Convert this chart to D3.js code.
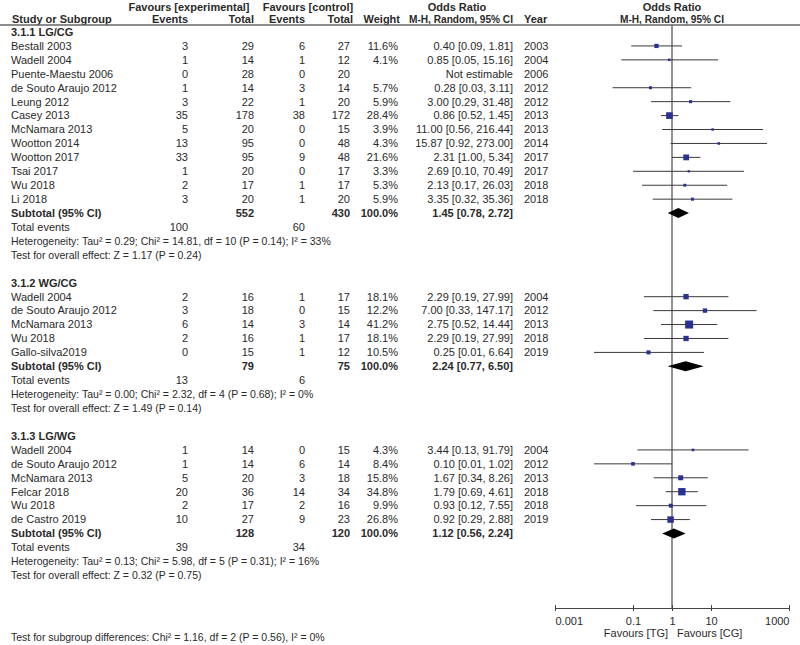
<!DOCTYPE html>
<html>
<head>
<meta charset="utf-8">
<script src="https://cdn.jsdelivr.net/npm/d3@7"></script>
<style>
  body { margin: 0; background: #fff; }
  svg { font-family: "Liberation Sans", Arial, sans-serif; font-size: 11px; fill: #2a2a2a; }
  .b { font-weight: bold; }
</style>
</head>
<body>
<svg id="chart" width="800" height="645"></svg>
<script>
// --- data ---
// [study, events exp, total exp, events ctrl, total ctrl, weight %, OR, lo, hi, year]
const lgcg = [
  ["Bestall 2003", 3, 29, 6, 27, 11.6, 0.40, 0.09, 1.81, 2003],
  ["Wadell 2004", 1, 14, 1, 12, 4.1, 0.85, 0.05, 15.16, 2004],
  ["Puente-Maestu 2006", 0, 28, 0, 20, null, null, null, null, 2006],
  ["de Souto Araujo 2012", 1, 14, 3, 14, 5.7, 0.28, 0.03, 3.11, 2012],
  ["Leung 2012", 3, 22, 1, 20, 5.9, 3.00, 0.29, 31.48, 2012],
  ["Casey 2013", 35, 178, 38, 172, 28.4, 0.86, 0.52, 1.45, 2013],
  ["McNamara 2013", 5, 20, 0, 15, 3.9, 11.00, 0.56, 216.44, 2013],
  ["Wootton 2014", 13, 95, 0, 48, 4.3, 15.87, 0.92, 273.00, 2014],
  ["Wootton 2017", 33, 95, 9, 48, 21.6, 2.31, 1.00, 5.34, 2017],
  ["Tsai 2017", 1, 20, 0, 17, 3.3, 2.69, 0.10, 70.49, 2017],
  ["Wu 2018", 2, 17, 1, 17, 5.3, 2.13, 0.17, 26.03, 2018],
  ["Li 2018", 3, 20, 1, 20, 5.9, 3.35, 0.32, 35.36, 2018]
];
const wgcg = [
  ["Wadell 2004", 2, 16, 1, 17, 18.1, 2.29, 0.19, 27.99, 2004],
  ["de Souto Araujo 2012", 3, 18, 0, 15, 12.2, 7.00, 0.33, 147.17, 2012],
  ["McNamara 2013", 6, 14, 3, 14, 41.2, 2.75, 0.52, 14.44, 2013],
  ["Wu 2018", 2, 16, 1, 17, 18.1, 2.29, 0.19, 27.99, 2018],
  ["Gallo-silva2019", 0, 15, 1, 12, 10.5, 0.25, 0.01, 6.64, 2019]
];
const lgwg = [
  ["Wadell 2004", 1, 14, 0, 15, 4.3, 3.44, 0.13, 91.79, 2004],
  ["de Souto Araujo 2012", 1, 14, 6, 14, 8.4, 0.10, 0.01, 1.02, 2012],
  ["McNamara 2013", 5, 20, 3, 18, 15.8, 1.67, 0.34, 8.26, 2013],
  ["Felcar 2018", 20, 36, 14, 34, 34.8, 1.79, 0.69, 4.61, 2018],
  ["Wu 2018", 2, 17, 2, 16, 9.9, 0.93, 0.12, 7.55, 2018],
  ["de Castro 2019", 10, 27, 9, 23, 26.8, 0.92, 0.29, 2.88, 2019]
];
// subtotals: [title, total exp, total ctrl, events exp, events ctrl, OR, lo, hi, heterogeneity, overall]
const subtotals = [
  ["3.1.1 LG/CG", 552, 430, 100, 60, 1.45, 0.78, 2.72,
   "Heterogeneity: Tau² = 0.29; Chi² = 14.81, df = 10 (P = 0.14); I² = 33%", "Test for overall effect: Z = 1.17 (P = 0.24)"],
  ["3.1.2 WG/CG", 79, 75, 13, 6, 2.24, 0.77, 6.50,
   "Heterogeneity: Tau² = 0.00; Chi² = 2.32, df = 4 (P = 0.68); I² = 0%", "Test for overall effect: Z = 1.49 (P = 0.14)"],
  ["3.1.3 LG/WG", 128, 120, 39, 34, 1.12, 0.56, 2.24,
   "Heterogeneity: Tau² = 0.13; Chi² = 5.98, df = 5 (P = 0.31); I² = 16%", "Test for overall effect: Z = 0.32 (P = 0.75)"]
];
const groups = [lgcg, wgcg, lgwg];
const tickVals = [0.001, 0.1, 1, 10, 1000];
const subgroupTest = "Test for subgroup differences: Chi² = 1.16, df = 2 (P = 0.56), I² = 0%";

const svg = d3.select("#chart");
const x = d3.scaleLog().domain([0.001, 1000]).range([555, 789]);
const yRow = d3.scaleLinear().domain([0, 39]).range([32, 575.3]);
const sq = d3.scaleSqrt().domain([0, 41.2]).range([0, 8]);

const col = { study: 11, ee: 188, te: 254, ec: 305, tc: 350, w: 398, ci: 513, yr: 524 };
const fmt = v => v.toFixed(2);

function txt(xp, yp, s, anchor, cls) {
  return svg.append("text").attr("x", xp).attr("y", yp).attr("dy", "0.35em")
    .attr("text-anchor", anchor || "start").attr("class", cls || null).text(s);
}

// headers
txt(189, 7, "Favours [experimental]", "middle", "b");
txt(308, 7, "Favours [control]", "middle", "b");
txt(457, 7, "Odds Ratio", "middle", "b");
txt(672, 7, "Odds Ratio", "middle", "b");
txt(col.study + 1, 19, "Study or Subgroup", "start", "b");
txt(col.ee, 19, "Events", "end", "b");
txt(col.te, 19, "Total", "end", "b");
txt(col.ec, 19, "Events", "end", "b");
txt(col.tc + 3, 19, "Total", "end", "b");
txt(col.w + 2, 19, "Weight", "end", "b");
txt(409, 19, "M-H, Random, 95% CI", "start", "b")
  .attr("textLength", 104).attr("lengthAdjust", "spacingAndGlyphs");
txt(col.yr, 19, "Year", "start", "b");
txt(672, 19, "M-H, Random, 95% CI", "middle", "b")
  .attr("textLength", 104).attr("lengthAdjust", "spacingAndGlyphs");

svg.append("line").attr("x1", 0).attr("x2", 800).attr("y1", 25).attr("y2", 25)
  .attr("stroke", "#666").attr("stroke-width", 1.5);

// line of no effect
svg.append("line").attr("x1", x(1)).attr("x2", x(1)).attr("y1", 25).attr("y2", 608)
  .attr("stroke", "#555").attr("stroke-width", 1.3);

let row = 0;
groups.forEach((g, gi) => {
  const s = subtotals[gi];
  txt(col.study, yRow(row), s[0], "start", "b");
  row++;
  g.forEach(d => {
    const y = yRow(row);
    txt(col.study, y, d[0]);
    txt(col.ee, y, d[1], "end");
    txt(col.te, y, d[2], "end");
    txt(col.ec, y, d[3], "end");
    txt(col.tc, y, d[4], "end");
    if (d[5] != null) {
      txt(col.w, y, d[5].toFixed(1) + "%", "end");
      txt(col.ci, y, `${fmt(d[6])} [${fmt(d[7])}, ${fmt(d[8])}]`, "end");
      svg.append("line").attr("x1", x(d[7])).attr("x2", x(d[8])).attr("y1", y).attr("y2", y)
        .attr("stroke", "#3a3a3a").attr("stroke-width", 1);
      const sz = Math.max(2.2, sq(d[5]));
      svg.append("rect").attr("x", x(d[6]) - sz / 2).attr("y", y - sz / 2)
        .attr("width", sz).attr("height", sz).attr("fill", "#2b3190");
    } else {
      txt(col.ci, y, "Not estimable", "end");
    }
    txt(col.yr, y, d[9]);
    row++;
  });
  let y = yRow(row);
  txt(col.study, y, "Subtotal (95% CI)", "start", "b");
  txt(col.te, y, s[1], "end", "b");
  txt(col.tc, y, s[2], "end", "b");
  txt(col.w, y, "100.0%", "end", "b");
  txt(col.ci, y, `${fmt(s[5])} [${fmt(s[6])}, ${fmt(s[7])}]`, "end", "b");
  svg.append("path")
    .attr("d", `M${x(s[6])},${y} L${x(s[5])},${y - 5} L${x(s[7])},${y} L${x(s[5])},${y + 5} Z`)
    .attr("fill", "#000");
  row++;
  y = yRow(row);
  txt(col.study, y, "Total events");
  txt(col.ee, y, s[3], "end");
  txt(col.ec, y, s[4], "end");
  row++;
  txt(col.study, yRow(row), s[8]).attr("font-size", "10.5px");
  row++;
  txt(col.study, yRow(row), s[9]).attr("font-size", "10.5px");
  row += 2;
});

txt(col.study, 637, subgroupTest).attr("font-size", "10.5px");

// axis
const axis = d3.axisBottom(x).tickValues(tickVals).tickFormat(d => String(d))
  .tickSize(3).tickSizeOuter(0).tickPadding(6);
const ax = svg.append("g").attr("transform", "translate(0,608)").call(axis);
ax.select(".domain").attr("stroke", "#444");
ax.selectAll(".tick line").attr("y1", -3).attr("y2", 3).attr("stroke", "#444");
ax.selectAll(".tick text").attr("font-size", "11px")
  .attr("font-family", "Liberation Sans, Arial, sans-serif").attr("fill", "#2a2a2a")
  .attr("text-anchor", (d, i) => i === 0 ? "start" : i === tickVals.length - 1 ? "end" : "middle");

txt(668, 633, "Favours [TG]", "end");
txt(677, 633, "Favours [CG]", "start");
</script>
</body>
</html>
